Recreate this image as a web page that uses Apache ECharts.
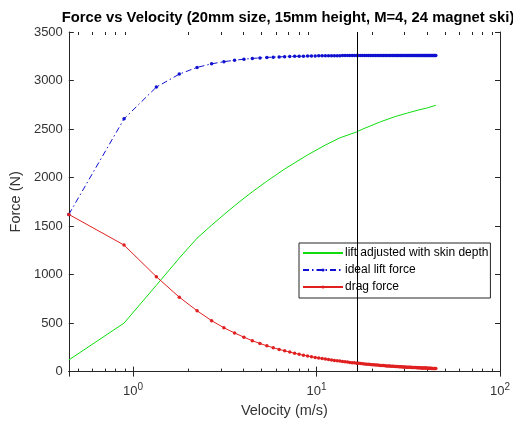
<!DOCTYPE html>
<html>
<head>
<meta charset="utf-8">
<script src="https://cdn.jsdelivr.net/npm/echarts@6/dist/echarts.min.js"></script>
<style>html,body{margin:0;padding:0;background:#fff}#c{width:513px;height:423px}</style>
</head>
<body>
<div id="c"></div>
<script>
const velocity = [0.447,0.894,1.341,1.788,2.235,2.682,3.129,3.576,4.023,4.470,4.917,5.364,5.812,6.259,6.706,7.153,7.600,8.047,8.494,8.941,9.388,9.835,10.282,10.729,11.176,11.623,12.070,12.517,12.964,13.411,13.858,14.305,14.752,15.199,15.646,16.093,16.540,16.988,17.435,17.882,18.329,18.776,19.223,19.670,20.117,20.564,21.011,21.458,21.905,22.352,22.799,23.246,23.693,24.140,24.587,25.034,25.481,25.928,26.375,26.822,27.269,27.716,28.164,28.611,29.058,29.505,29.952,30.399,30.846,31.293,31.740,32.187,32.634,33.081,33.528,33.975,34.422,34.869,35.316,35.763,36.210,36.657,37.104,37.551,37.998,38.445,38.892,39.340,39.787,40.234,40.681,41.128,41.575,42.022,42.469,42.916,43.363,43.810,44.257,44.704];
const idealLift = [1620,2605,2932,3066,3135,3172,3194,3209,3220,3228,3233,3238,3241,3243,3246,3247,3249,3250,3251,3252,3253,3253,3254,3254,3255,3255,3256,3256,3256,3256,3257,3257,3257,3257,3257,3257,3257,3257,3257,3257,3258,3258,3258,3258,3258,3258,3258,3258,3258,3258,3258,3258,3258,3258,3258,3258,3258,3258,3258,3258,3259,3259,3259,3259,3259,3259,3259,3259,3259,3259,3259,3259,3259,3259,3259,3259,3259,3259,3259,3259,3259,3259,3259,3259,3259,3259,3259,3259,3259,3259,3259,3259,3259,3259,3259,3259,3259,3259,3259,3259];
const dragForce = [1620,1304,978,767,627,525,452,398,355,318,290,266,246,229,214,201,189,179,169,161,153,146,140,134,129,124,119,115,111,108,104,101,98,95,92,90,87,85,83,80,78,77,75,73,71,70,68,67,66,64,63,62,60,59,58,57,56,55,54,53,52,52,51,50,49,48,48,47,46,46,45,44,44,43,42,42,41,41,40,40,39,39,38,38,37,37,36,36,36,35,35,34,34,34,33,33,33,32,32,32];
const adjVelocity = [0.447,0.894,1.341,1.788,2.235,2.682,3.129,3.576,4.023,4.470,5.364,6.706,8.941,11.176,13.411,16.540,17.882,22.352,26.822,31.293,35.763,40.234,44.704];
const adjLift = [120,500,890,1170,1375,1509,1618,1709,1786,1853,1962,2088,2233,2335,2409,2470,2500,2575,2628,2665,2695,2718,2745];
const markVelocity = 16.7;
const minorTicksX = [0.5,0.6,0.7,0.8,0.9,2,3,4,5,6,7,8,9,20,30,40,50,60,70,80,90];
const yTicks = {min: 0, max: 3500, step: 500};
const xRange = {min: 0.447, max: 100};
const names = ['lift adjusted with skin depth', 'ideal lift force', 'drag force'];

const zip = (xs, ys) => xs.map((x, i) => [x, ys[i]]);
const axisCol = '#262626';
const font = 'Liberation Sans, Arial, sans-serif';

function expLabel(v) {
  const l = Math.log10(v);
  const e = Math.round(l);
  if (Math.abs(l - e) > 1e-6) return '';
  return '{b|10}{s|' + e + '}';
}

const chart = echarts.init(document.getElementById('c'), null, {renderer: 'canvas'});
chart.setOption({
  animation: false,
  backgroundColor: '#fff',
  title: {
    text: 'Force vs Velocity (20mm size, 15mm height, M=4, 24 magnet ski)',
    left: 283, top: 5, textAlign: 'center',
    textStyle: {fontFamily: font, fontSize: 14.8, fontWeight: 'bold', color: '#000'}
  },
  grid: {left: 67, right: 7, top: 32, bottom: 49, containLabel: false},
  legend: {
    data: [
      {name: names[0], itemStyle: {opacity: 0}},
      {name: names[1]},
      {name: names[2]}
    ],
    orient: 'vertical', left: 299, top: 243,
    itemWidth: 40, itemHeight: 4, itemGap: 3,
    padding: [3, 2, 4, 3],
    backgroundColor: '#fff', borderColor: '#262626', borderWidth: 1, borderRadius: 0,
    textStyle: {fontFamily: font, fontSize: 12, color: '#000', padding: [0,0,0,-3], lineHeight: 14}
  },
  xAxis: [{
    type: 'log', logBase: 10, min: xRange.min, max: xRange.max,
    name: 'Velocity (m/s)', nameLocation: 'middle', nameGap: 31,
    nameTextStyle: {fontFamily: font, fontSize: 14.5, color: '#333'},
    axisLine: {show: true, lineStyle: {color: axisCol, width: 1}},
    axisTick: {show: true, inside: true, length: 5, lineStyle: {color: axisCol}},
    axisLabel: {
      showMinLabel: false, margin: 11, formatter: expLabel,
      rich: {b: {fontFamily: font, fontSize: 13, color: '#333'}, s: {fontFamily: font, fontSize: 10, color: '#333', padding: [0, 0, 8, 0]}}
    },
    splitLine: {show: false}
  }, {
    type: 'log', logBase: 10, min: xRange.min, max: xRange.max, position: 'top',
    axisLine: {show: true, lineStyle: {color: axisCol, width: 1}},
    axisTick: {show: true, inside: true, length: 5, lineStyle: {color: axisCol}},
    axisLabel: {show: false}, splitLine: {show: false}
  }],
  yAxis: [{
    type: 'value', min: yTicks.min, max: yTicks.max, interval: yTicks.step,
    name: 'Force (N)', nameLocation: 'middle', nameGap: 35, nameRotate: 90,
    nameTextStyle: {fontFamily: font, fontSize: 14.5, color: '#333'},
    axisLine: {show: true, lineStyle: {color: axisCol, width: 1}},
    axisTick: {show: true, inside: true, length: 5, lineStyle: {color: axisCol}},
    axisLabel: {fontFamily: font, fontSize: 13, color: '#333', margin: 6, formatter: v => String(v)},
    splitLine: {show: false}
  }, {
    type: 'value', min: yTicks.min, max: yTicks.max, interval: yTicks.step, position: 'right',
    axisLine: {show: true, lineStyle: {color: axisCol, width: 1}},
    axisTick: {show: true, inside: true, length: 5, lineStyle: {color: axisCol}},
    axisLabel: {show: false}, splitLine: {show: false}
  }],
  series: [{
    name: names[0], type: 'line', data: zip(adjVelocity, adjLift),
    showSymbol: false, symbol: 'none',
    lineStyle: {color: '#10dd10', width: 1}, itemStyle: {color: '#10dd10'},
    markLine: {
      silent: true, symbol: 'none', label: {show: false},
      lineStyle: {color: '#000', width: 1, type: 'solid'},
      data: [{xAxis: markVelocity}]
    },
    z: 3
  }, {
    name: names[1], type: 'line', data: zip(velocity, idealLift),
    symbol: 'circle', symbolSize: 3.5, showAllSymbol: true,
    lineStyle: {color: '#1010d0', width: 1, type: [6, 3, 1.5, 3]},
    itemStyle: {color: '#1010d0'},
    z: 4
  }, {
    name: names[2], type: 'line', data: zip(velocity, dragForce),
    symbol: 'circle', symbolSize: 3.5, showAllSymbol: true,
    lineStyle: {color: '#e02020', width: 1},
    itemStyle: {color: '#e02020'},
    z: 5
  }, {
    name: 'minorTicks', type: 'custom', silent: true,
    data: minorTicksX.map(v => [v, 0]),
    encode: {x: 0, y: 1},
    clip: false,
    renderItem: function (params, api) {
      const v = api.value(0);
      const b = api.coord([v, yTicks.min]);
      const t = api.coord([v, yTicks.max]);
      const x = Math.round(b[0]) + 0.5;
      return {type: 'group', children: [
        {type: 'line', shape: {x1: x, y1: b[1], x2: x, y2: b[1] - 3}, style: {stroke: axisCol, lineWidth: 1}},
        {type: 'line', shape: {x1: x, y1: t[1], x2: x, y2: t[1] + 3}, style: {stroke: axisCol, lineWidth: 1}}
      ]};
    }
  }]
});
</script>
</body>
</html>
